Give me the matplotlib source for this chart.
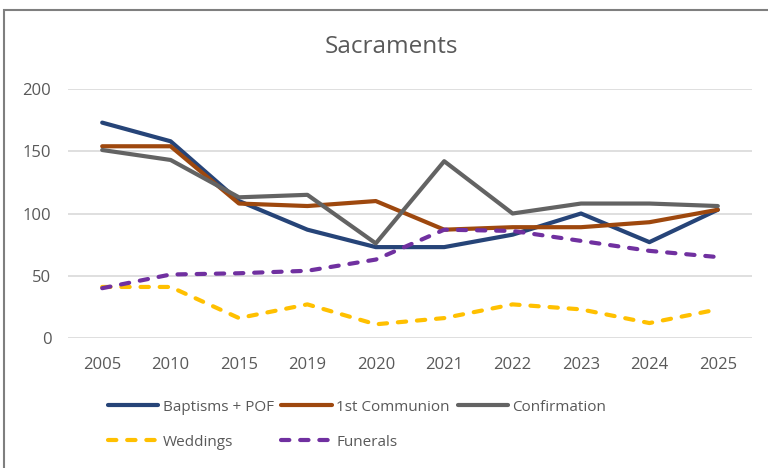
import matplotlib.pyplot as plt
from matplotlib.patches import Rectangle

years = ['2005', '2010', '2015', '2019', '2020', '2021', '2022', '2023', '2024', '2025']
baptisms = [173, 158, 110, 87, 73, 73, 83, 100, 77, 103]
communion = [154, 154, 108, 106, 110, 87, 89, 89, 93, 103]
confirmation = [151, 143, 113, 115, 76, 142, 100, 108, 108, 106]
weddings = [41, 41, 16, 27, 11, 16, 27, 23, 12, 23]
funerals = [40, 51, 52, 54, 63, 87, 86, 78, 70, 65]

text_col = '#595959'
plt.rcParams['font.family'] = ['Open Sans', 'DejaVu Sans']

fig = plt.figure(figsize=(7.68, 4.68), dpi=100)
ax = fig.add_axes([68 / 768, 1 - 338 / 468, 684 / 768, 249 / 468])

x = range(len(years))
lw = 3
h1, = ax.plot(x, baptisms, color='#264478', lw=lw, label='Baptisms + POF', solid_capstyle='round')
h2, = ax.plot(x, communion, color='#9E480E', lw=lw, label='1st Communion', solid_capstyle='round')
h3, = ax.plot(x, confirmation, color='#636363', lw=lw, label='Confirmation', solid_capstyle='round')
h4, = ax.plot(x, weddings, color='#FFC000', lw=lw, label='Weddings',
              dashes=(2.0, 2.6), dash_capstyle='round')
h5, = ax.plot(x, funerals, color='#7030A0', lw=lw, label='Funerals',
              dashes=(2.0, 2.6), dash_capstyle='round')

ax.set_xlim(-0.5, len(years) - 0.5)
ax.set_ylim(0, 200)
ax.set_yticks([0, 50, 100, 150, 200])
ax.set_xticks(list(x))
ax.set_xticklabels(years)
ax.grid(axis='y', color='#D9D9D9', lw=1.2)
ax.set_axisbelow(True)
for s in ax.spines.values():
    s.set_visible(False)
ax.tick_params(length=0, colors=text_col, labelsize=12)
ax.tick_params(axis='x', pad=14)
ax.tick_params(axis='y', pad=12)

fig.text(391 / 768, 1 - 47 / 468, 'Sacraments', ha='center', va='center',
         fontsize=17.5, color=text_col)

leg = fig.legend([h1, h4, h2, h5, h3],
                 ['Baptisms + POF', 'Weddings', '1st Communion', 'Funerals', 'Confirmation'],
                 ncol=3, loc='upper left', bbox_to_anchor=(94 / 768, 1 - 386 / 468),
                 frameon=False, fontsize=11, handlelength=3.3, handletextpad=0.3,
                 columnspacing=0.5, labelspacing=1.3, labelcolor=text_col)

fig.patches.append(Rectangle((4 / 768, -0.1), 1.2, 1 - 10 / 468 + 0.1,
                             transform=fig.transFigure, fill=False,
                             edgecolor='#7F7F7F', lw=1.5))

fig.savefig('out.png', dpi=100)
